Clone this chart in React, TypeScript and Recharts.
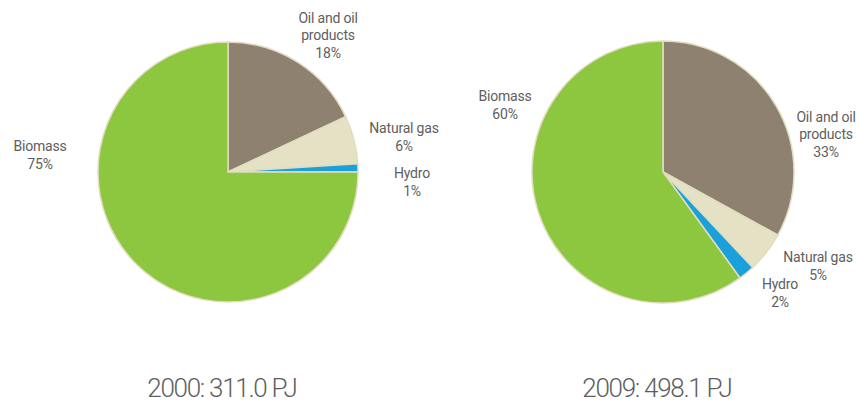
import { PieChart, Pie, Cell } from "recharts";

const categories = ["Oil and oil products", "Natural gas", "Hydro", "Biomass"];
const labelLines = [["Oil and oil", "products"], ["Natural gas"], ["Hydro"], ["Biomass"]];
const share2000 = [18, 6, 1, 75];
const share2009 = [33, 5, 2, 60];
const titles = ["2000: 311.0 PJ", "2009: 498.1 PJ"];

const COLORS = ["#8f8170", "#e4e1c5", "#1aa0da", "#8dc63f"];
const TEXT = "#5e5e5e";
const FONT = "Roboto, 'Open Sans', sans-serif";

// label block centre, relative to the pie centre
const OFFSETS_2000 = [
  [100, -137],
  [176, -35],
  [184, 10],
  [-188, -17],
];
const OFFSETS_2009 = [
  [163, -38],
  [155, 94],
  [117, 121],
  [-158, -67],
];

const data2000 = categories.map((name, i) => ({ name, value: share2000[i] }));
const data2009 = categories.map((name, i) => ({ name, value: share2009[i] }));

function makeLabel(offsets: number[][]) {
  return (props: any) => {
    const { cx, cy, index, value } = props;
    const lines = [...labelLines[index], `${value}%`];
    const lh = 17.5;
    const x = cx + offsets[index][0];
    const y0 = cy + offsets[index][1] - ((lines.length - 1) * lh) / 2;
    return (
      <text
        x={x}
        y={y0}
        textAnchor="middle"
        dominantBaseline="central"
        fill={TEXT}
        fontSize={14}
        fontFamily={FONT}
        letterSpacing={-0.2}
      >
        {lines.map((l, i) => (
          <tspan key={i} x={x} y={y0 + i * lh}>
            {l}
          </tspan>
        ))}
      </text>
    );
  };
}

export default function App() {
  return (
    <div style={{ position: "absolute", left: 0, top: 0, background: "#fff" }}>
      <PieChart width={860} height={406} margin={{ top: 0, right: 0, bottom: 0, left: 0 }}>
        <Pie
          data={data2000}
          dataKey="value"
          nameKey="name"
          cx={228}
          cy={172}
          outerRadius={130}
          startAngle={90}
          endAngle={-270}
          stroke="#e2ddc0"
          strokeWidth={1.5}
          labelLine={false}
          label={makeLabel(OFFSETS_2000)}
          isAnimationActive={false}
        >
          {data2000.map((d, i) => (
            <Cell key={d.name} fill={COLORS[i]} />
          ))}
        </Pie>
        <Pie
          data={data2009}
          dataKey="value"
          nameKey="name"
          cx={663}
          cy={172}
          outerRadius={131}
          startAngle={90}
          endAngle={-270}
          stroke="#e2ddc0"
          strokeWidth={1.5}
          labelLine={false}
          label={makeLabel(OFFSETS_2009)}
          isAnimationActive={false}
        >
          {data2009.map((d, i) => (
            <Cell key={d.name} fill={COLORS[i]} />
          ))}
        </Pie>
        <text x={222} y={388} textAnchor="middle" dominantBaseline="central" fill={TEXT} fontSize={26} fontWeight={300} fontFamily={FONT} letterSpacing={-1.3}>
          {titles[0]}
        </text>
        <text x={657} y={388} textAnchor="middle" dominantBaseline="central" fill={TEXT} fontSize={26} fontWeight={300} fontFamily={FONT} letterSpacing={-1.3}>
          {titles[1]}
        </text>
      </PieChart>
    </div>
  );
}
